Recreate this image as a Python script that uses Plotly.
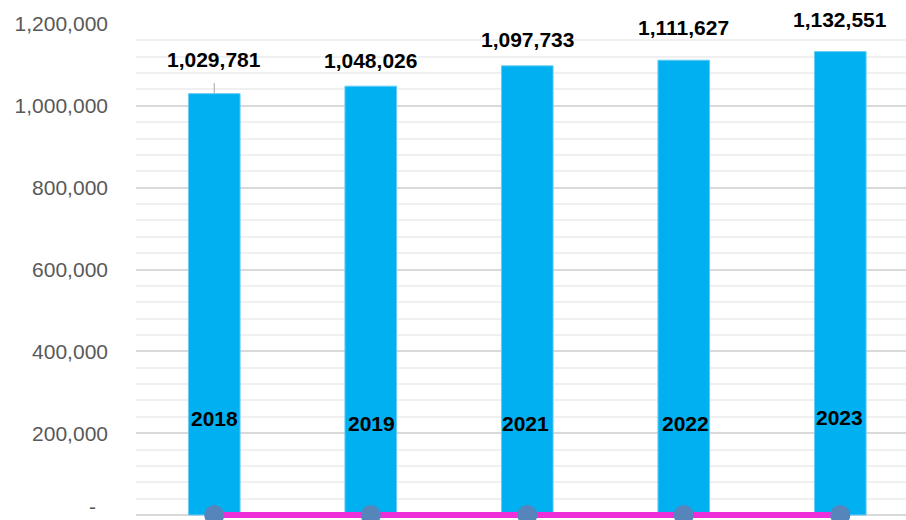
import plotly.graph_objects as go

categories = ["2018", "2019", "2021", "2022", "2023"]
values = [1029781, 1048026, 1097733, 1111627, 1132551]
line_values = [0, 0, 0, 0, 0]
tick_vals = [0, 200000, 400000, 600000, 800000, 1000000, 1200000]
tick_text = ["", "200,000", "400,000", "600,000", "800,000", "1,000,000", "1,200,000"]
zero_label = "-"

# label placement (pixel offsets)
value_yshift = [34, 26, 26, 33, 32]
year_yshift = [97, 92, 92, 92, 98]
year_xshift = [0, 1, -2, 2, -1]

fig = go.Figure()
fig.add_trace(go.Bar(
    x=categories, y=values, width=0.33,
    marker=dict(color="#00B0F0", line=dict(color="#6ACBF2", width=1)),
    hoverinfo="x+y",
))
fig.add_trace(go.Scatter(
    x=categories, y=line_values, mode="lines+markers",
    line=dict(color="#EE2FD9", width=6),
    marker=dict(color="#5585BA", size=20),
    cliponaxis=False,
))

for i, (c, v) in enumerate(zip(categories, values)):
    fig.add_annotation(x=i, y=v, xref="x", yref="y", text="<b>" + f"{v:,}" + "</b>",
                       showarrow=False, yshift=value_yshift[i],
                       font=dict(family="Liberation Sans", size=21, color="#000000"),
                       xanchor="center", yanchor="middle")
    fig.add_annotation(x=i, y=0, xref="x", yref="y", text="<b>" + c + "</b>",
                       showarrow=False, yshift=year_yshift[i], xshift=year_xshift[i],
                       font=dict(family="Liberation Sans", size=21, color="#000000"),
                       xanchor="center", yanchor="middle")
# leader line for the first data label
fig.add_annotation(x=0, y=values[0], xref="x", yref="y", text="", showarrow=True,
                   ax=0, ay=-12, arrowhead=0, arrowwidth=1, arrowcolor="#A6A6A6",
                   standoff=0, startstandoff=0)
# zero tick label (accounting dash)
fig.add_annotation(x=0, y=tick_vals[0], xref="paper", yref="y", text=zero_label,
                   showarrow=False, xanchor="right", yanchor="bottom", xshift=-38, yshift=-5,
                   font=dict(family="Liberation Sans", size=21, color="#595959"))

fig.update_layout(
    width=906, height=520,
    margin=dict(l=136, r=0, t=24, b=0, autoexpand=False),
    paper_bgcolor="white", plot_bgcolor="white",
    showlegend=False,
    xaxis=dict(type="category", range=[-0.5, 4.42], showticklabels=False,
               showgrid=False, zeroline=False, showline=False, fixedrange=True),
    yaxis=dict(range=[-12220, 1200000], tickvals=tick_vals, ticktext=tick_text,
               showgrid=True, gridcolor="#D9D9D9", gridwidth=1.5,
               zeroline=False, showline=False, ticks="", ticklabelstandoff=27,
               tickfont=dict(family="Liberation Sans", size=21, color="#595959"),
               minor=dict(dtick=40000, tick0=0, showgrid=True, gridcolor="#F0F0F0", gridwidth=1.5),
               fixedrange=True),
)

fig.write_html("out.html", config={"displayModeBar": False},
               post_script="document.body.style.margin='0';")
